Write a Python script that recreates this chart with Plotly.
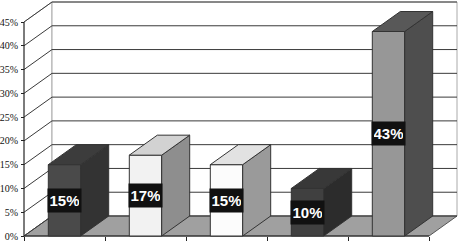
import plotly.graph_objects as go

# ---- data ----
categories = ["A", "B", "C", "D", "E"]
values = [15, 17, 15, 10, 43]
labels = ["15%", "17%", "15%", "10%", "43%"]
tick_values = [0, 5, 10, 15, 20, 25, 30, 35, 40, 45]
tick_labels = ["0%", "5%", "10%", "15%", "20%", "25%", "30%", "35%", "40%", "45%"]

# ---- styles ----
front_colors = ["#4a4a4a", "#f2f2f2", "#fcfcfc", "#404040", "#979797"]
side_colors = ["#333333", "#8e8e8e", "#9a9a9a", "#2c2c2c", "#4e4e4e"]
top_colors = ["#3c3c3c", "#d2d2d2", "#e2e2e2", "#383838", "#585858"]

W, H = 458, 241
PX_X = 81.0              # px per category
PX_Y = 214.0 / 45.0      # px per percent
X0_PX, Y0_PX = 24, 236   # origin pixel
DX = 28 / PX_X           # depth in category units
DY = 20 / PX_Y           # depth in percent units
YMAX = max(tick_values)
N = len(categories)

xr = [-X0_PX / PX_X, (W - X0_PX) / PX_X]
yr = [-(H - Y0_PX) / PX_Y, Y0_PX / PX_Y]

fig = go.Figure()

def poly(xs, ys, fill, line="#333333", lw=1):
    fig.add_trace(go.Scatter(x=xs + [xs[0]], y=ys + [ys[0]], mode="lines", fill="toself",
                             fillcolor=fill, line=dict(color=line, width=lw),
                             hoverinfo="skip", showlegend=False))

def lines(xs, ys, color="#333333", lw=1):
    fig.add_trace(go.Scatter(x=xs, y=ys, mode="lines", line=dict(color=color, width=lw),
                             hoverinfo="skip", showlegend=False))

# walls
poly([0, DX, DX, 0], [0, DY, YMAX + DY, YMAX], "white", "#aaaaaa")
poly([DX, N + DX, N + DX, DX], [DY, DY, YMAX + DY, YMAX + DY], "white", "#aaaaaa")
# floor
poly([0, N, N + DX, DX], [0, 0, DY, DY], "#a0a0a0", "#555555")

# gridlines on back wall and diagonals on side wall
gx, gy = [], []
for v in tick_values:
    gx += [DX, N + DX, None, 0, DX, None]
    gy += [v + DY, v + DY, None, v, v + DY, None]
lines(gx, gy, "#3a3a3a", 1)
lines([0, 0], [0, YMAX], "#222222", 1)
lines([0, N], [0, 0], "#222222", 1)

# bars
for i, v in enumerate(values):
    x0 = i + 0.3
    x1 = i + 0.7
    poly([x0, x1, x1, x0], [0, 0, v, v], front_colors[i])
    poly([x1, x1 + DX, x1 + DX, x1], [0, DY, v + DY, v], side_colors[i])
    poly([x0, x1, x1 + DX, x0 + DX], [v, v, v + DY, v + DY], top_colors[i])
    fig.add_annotation(x=(x0 + x1) / 2, y=v / 2, text=f"<b>{labels[i]}</b>", showarrow=False,
                       font=dict(family="Liberation Sans", size=15, color="white"),
                       width=29, height=19, align="center", valign="middle",
                       bgcolor="#111111", borderpad=2)

fig.update_layout(
    width=W, height=H, margin=dict(l=0, r=0, t=0, b=0),
    paper_bgcolor="white", plot_bgcolor="white",
    xaxis=dict(range=xr, domain=[0, 1], showgrid=False, zeroline=False,
               tickvals=list(range(N + 1)), ticks="outside", ticklen=4, tickcolor="#222222",
               showticklabels=False, anchor="free", position=(H - Y0_PX) / H, automargin=False),
    yaxis=dict(range=yr, domain=[0, 1], showgrid=False, zeroline=False,
               tickvals=tick_values, ticktext=tick_labels, ticks="outside", ticklen=3,
               ticklabeloverflow="allow", ticklabelstandoff=1,
               tickcolor="#222222", tickfont=dict(family="Liberation Serif", size=10, color="#111111"),
               anchor="free", position=X0_PX / W, automargin=False),
)

fig.write_html("out.html", config={"displayModeBar": False, "staticPlot": True},
               post_script="document.body.style.margin='0';document.body.style.overflow='hidden';")
